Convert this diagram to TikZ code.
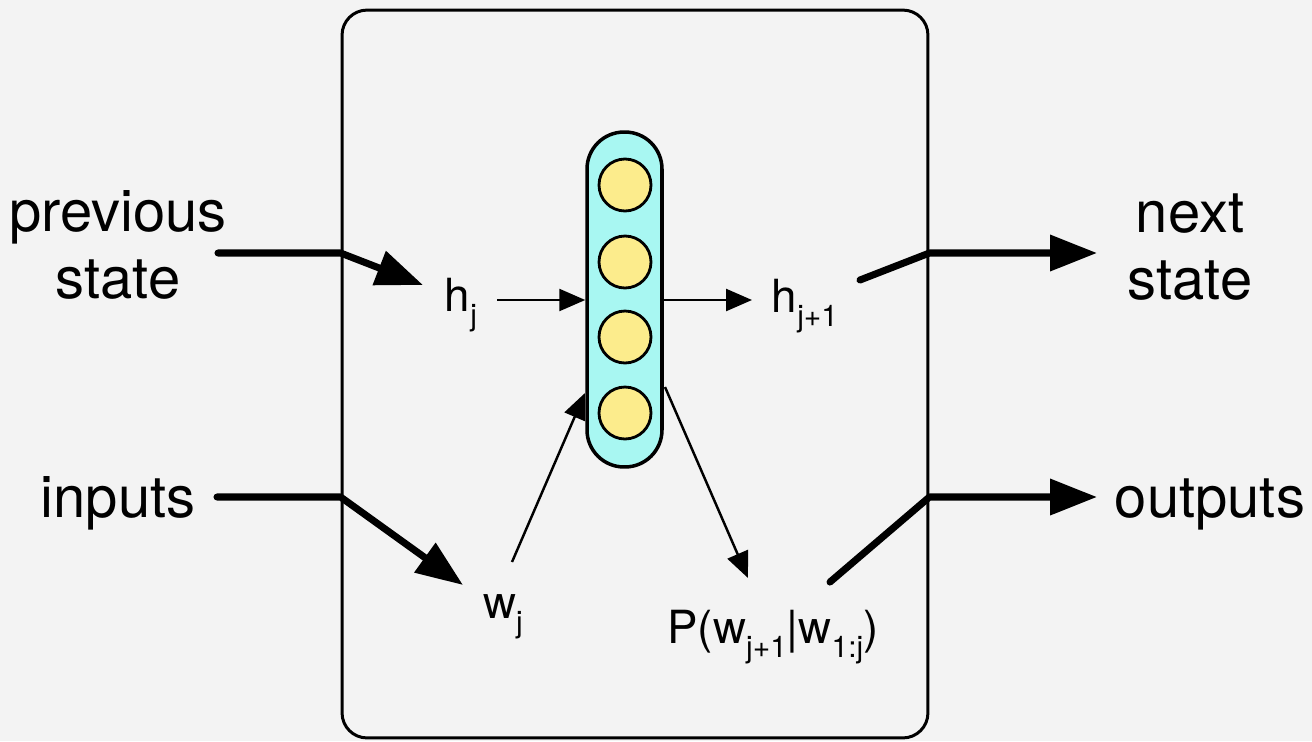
\documentclass[tikz,border=0pt]{standalone}
\usepackage{fontspec}
\setmainfont{TeX Gyre Heros}
\usepackage{xcolor}
\usetikzlibrary{arrows.meta,positioning}
\definecolor{bggray}{HTML}{F3F3F3}
\definecolor{layercyan}{HTML}{A8F7F2}
\definecolor{unityellow}{HTML}{FCEC8C}
\newcommand{\lowsub}[1]{\raisebox{-0.32em}{\fontsize{17}{18}\selectfont #1}}

\begin{document}
\begin{tikzpicture}[x=0.02cm,y=-0.02cm,
  bigtxt/.style={font=\fontsize{33}{38}\selectfont,align=center,inner sep=0pt},
  lbl/.style={font=\fontsize{26}{30}\selectfont,inner sep=0pt,anchor=base},
  fatarrow/.style={line width=4pt,line cap=round,line join=round,-{Triangle[length=0.94cm,width=0.7cm]}},
  thinarrow/.style={line width=1.4pt,-{Triangle[length=0.52cm,width=0.44cm]}},
  unit/.style={circle,draw,line width=1.6pt,fill=unityellow,minimum size=1.04cm,inner sep=0pt}]
  \fill[bggray] (0,0) rectangle (1312,741);
  % the cell
  \node[draw,line width=1.7pt,rounded corners=0.5cm,minimum width=11.72cm,minimum height=14.56cm] (cell) at (635,374) {};
  % outside texts
  \node[bigtxt] (prev) at (118,245) {previous\\state};
  \node[bigtxt,anchor=base] (inp) at (118,517) {inputs};
  \node[bigtxt] (next) at (1190,247) {next\\state};
  \node[bigtxt,anchor=base] (outp) at (1210,517) {outputs};
  % inside labels
  \node[lbl] (hj) at (461,311) {h\lowsub{j}};
  \node[lbl] (hjj) at (805,312) {h\lowsub{j+1}};
  \node[lbl] (wj) at (503,618) {w\lowsub{j}};
  \node[lbl] (prob) at (773,643) {P(w\lowsub{j+1}|w\lowsub{1:j})};
  % thick arrows through the cell wall
  \coordinate (prevout) at (218,253);
  \coordinate (hjin) at (423,285);
  \coordinate (inpout) at (217,497);
  \coordinate (wjin) at (463,585);
  \coordinate (hjjout) at (860,280);
  \coordinate (nextin) at (1097,253);
  \coordinate (probout) at (830,582);
  \coordinate (outpin) at (1097,497);
  \draw[fatarrow] (prevout) -- (prevout -| cell.west) -- (hjin);
  \draw[fatarrow] (inpout) -- (inpout -| cell.west) -- (wjin);
  \draw[fatarrow] (hjjout) -- (nextin -| cell.east) -- (nextin);
  \draw[fatarrow] (probout) -- (outpin -| cell.east) -- (outpin);
  % the hidden layer
  \node[draw,line width=2pt,fill=layercyan,rounded corners=0.74cm,minimum width=1.5cm,minimum height=6.7cm] (layer) at (624.5,299.5) {};
  \foreach \k/\y in {1/185,2/262,3/337,4/413}
    \node[unit] (u\k) at (625,\y) {};
  % thin arrows
  \coordinate (hjout) at (497,300);
  \coordinate (hjjin) at (752,300);
  \coordinate (wjout) at (512,562);
  \coordinate (layerin) at (585,393);
  \coordinate (layerout) at (665,387);
  \coordinate (probin) at (748,578);
  \draw[thinarrow] (hjout) -- (hjout -| layer.west);
  \draw[thinarrow] (hjout -| layer.east) -- (hjjin);
  \draw[thinarrow] (wjout) -- (layerin);
  \draw[thinarrow] (layerout) -- (probin);
\end{tikzpicture}
\end{document}
